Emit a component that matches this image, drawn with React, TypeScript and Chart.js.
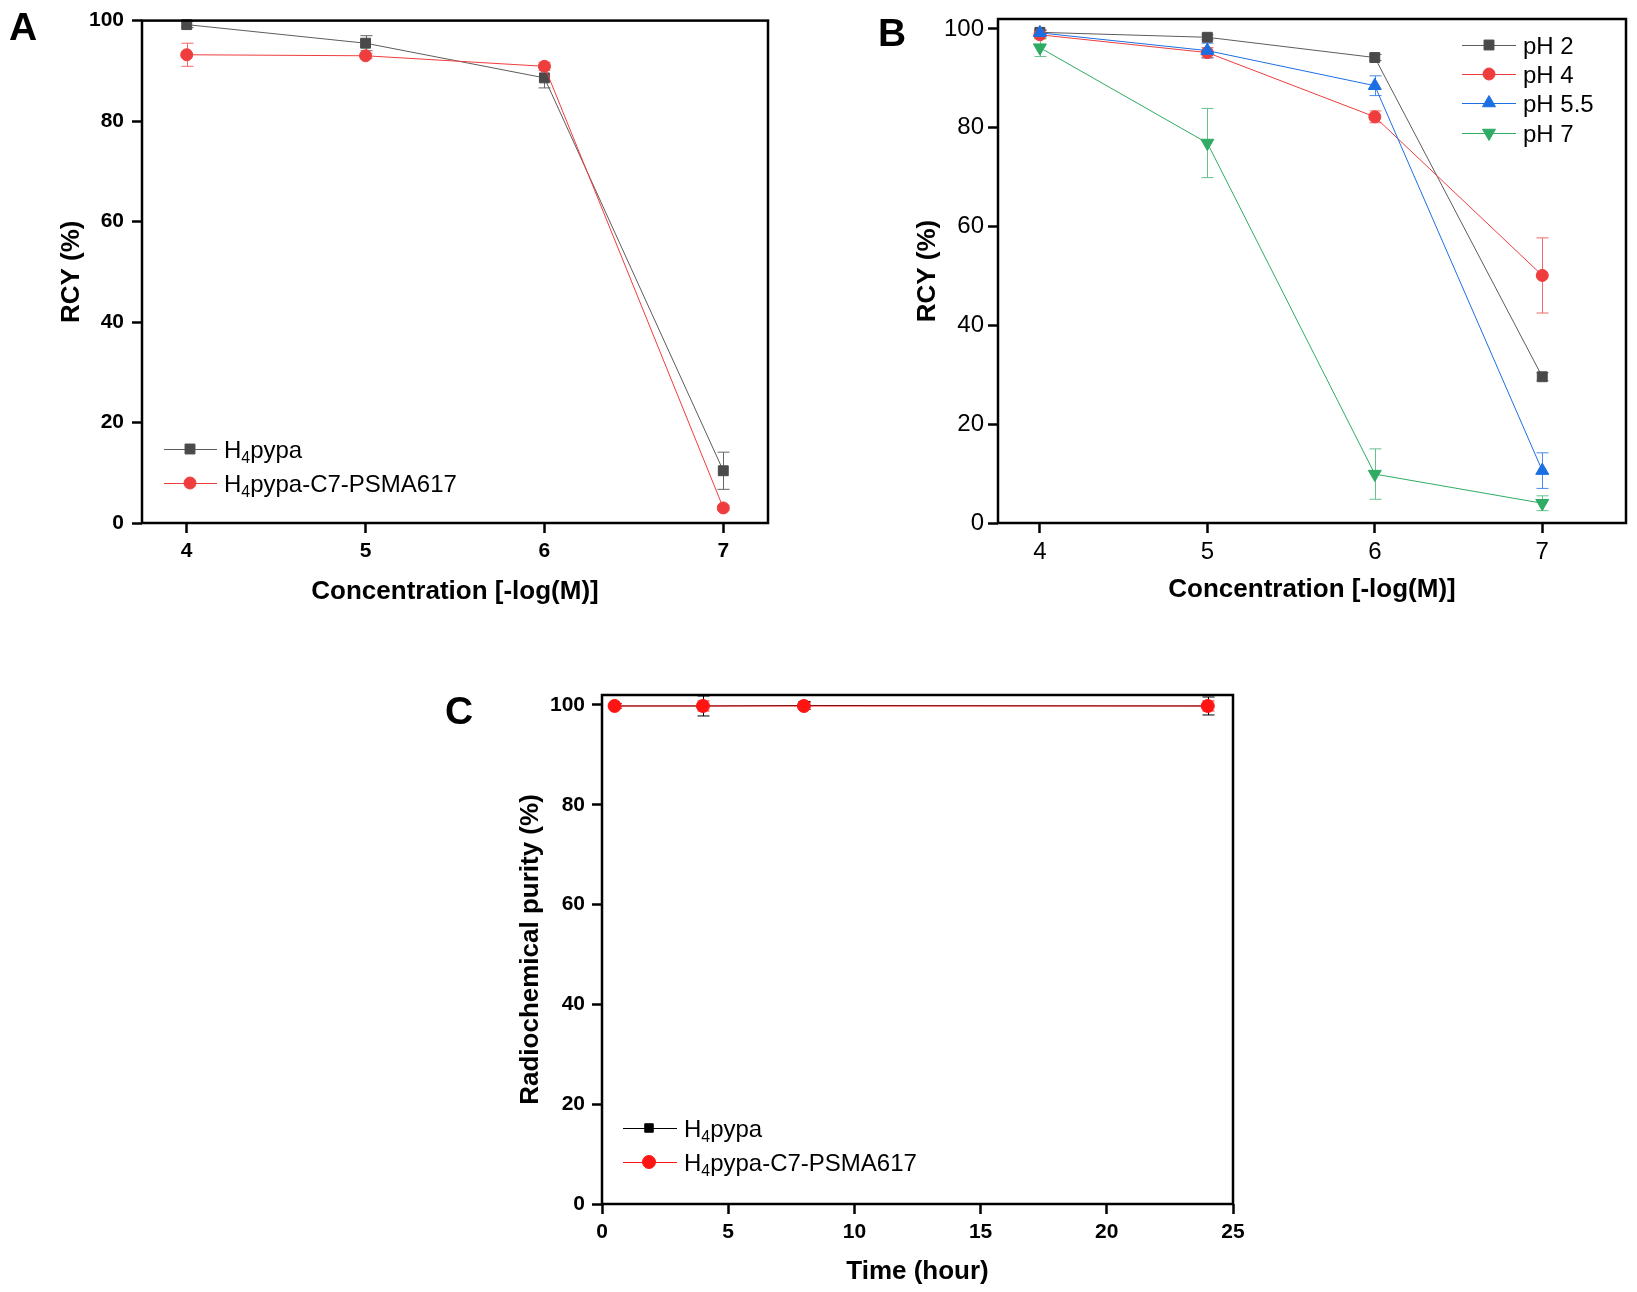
import React, { useEffect, useRef } from 'react';
import { Chart, registerables } from 'chart.js';

Chart.register(...registerables);

const FONT = "'Liberation Sans', Arial, Helvetica, sans-serif";
const NARROW = "'Liberation Sans Narrow', 'Arial Narrow', 'Liberation Sans', Arial, sans-serif";

// ---------- Panel A data ----------
const concX = [4, 5, 6, 7];
const concTicks = [4, 5, 6, 7];
const rcyTicks = [0, 20, 40, 60, 80, 100];
const aPypa = [99.2, 95.5, 88.6, 10.4];
const aPypaErr = [0.6, 1.5, 2.0, 3.7];
const aPsma = [93.2, 93.0, 90.9, 3.0];
const aPsmaErr = [2.3, 0.5, 0.8, 0.5];

// ---------- Panel B data ----------
const bPH2 = [99.3, 98.3, 94.2, 29.6];
const bPH2Err = [0.5, 0.5, 0.6, 0.8];
const bPH4 = [98.8, 95.2, 82.2, 50.1];
const bPH4Err = [0.8, 1.0, 1.2, 7.6];
const bPH55 = [99.2, 95.6, 88.5, 10.6];
const bPH55Err = [0.5, 1.5, 2.0, 3.6];
const bPH7 = [96.2, 76.9, 9.9, 4.0];
const bPH7Err = [1.8, 7.0, 5.1, 1.5];

// ---------- Panel C data ----------
const timeX = [0.5, 4, 8, 24];
const timeTicks = [0, 5, 10, 15, 20, 25];
const purityTicks = [0, 20, 40, 60, 80, 100];
const cPypa = [99.8, 99.8, 99.9, 99.8];
const cPypaErr = [0.5, 2.0, 0.8, 1.8];
const cPsma = [99.8, 99.8, 99.8, 99.8];
const cPsmaErr = [0.5, 1.0, 0.7, 1.0];

type Part = { t: string; sub?: boolean };
const lblPypa: Part[] = [{ t: 'H' }, { t: '4', sub: true }, { t: 'pypa' }];
const lblPsma: Part[] = [{ t: 'H' }, { t: '4', sub: true }, { t: 'pypa-C7-PSMA617' }];

type Series = {
  label: Part[];
  data: number[];
  err: number[];
  color: string;
  line: string;
  errColor: string;
  style: string;
  radius: number;
  rotation?: number;
};

type Panel = {
  canvas: { x: number; y: number; w: number; h: number };
  area: { L: number; T: number; R: number; B: number };
  yTitleCX: number;
  xTitleCY: number;
  xs: number[];
  xMin: number;
  xMax: number;
  xTicks: number[];
  yMin: number;
  yMax: number;
  yTicks: number[];
  xTitle: string;
  yTitle: string;
  tickFont: { family: string; size: number; weight: string };
  yTickPad: number;
  xTickPad: number;
  series: Series[];
  legend: { x1: number; x2: number; mx: number; tx: number; ys: number[]; size: number };
  letter: { t: string; x: number; y: number };
};

const GRAY = '#4a4a4a';
const GRAYLINE = '#5c5c5c';
const RED = '#ef3d3d';
const BLUE = '#1b6fe2';
const GREEN = '#2fab63';

const panels: Panel[] = [
  {
    canvas: { x: 0, y: 0, w: 810, h: 630 },
    area: { L: 142, T: 20, R: 768, B: 523 },
    yTitleCX: 72,
    xTitleCY: 592,
    xs: concX,
    xMin: 3.75,
    xMax: 7.25,
    xTicks: concTicks,
    yMin: 0,
    yMax: 100,
    yTicks: rcyTicks,
    xTitle: 'Concentration [-log(M)]',
    yTitle: 'RCY (%)',
    tickFont: { family: FONT, size: 21, weight: 'bold' },
    yTickPad: 8,
    xTickPad: 6,
    series: [
      { label: lblPypa, data: aPypa, err: aPypaErr, color: GRAY, line: GRAYLINE, errColor: '#666666', style: 'rect', radius: 7 },
      { label: lblPsma, data: aPsma, err: aPsmaErr, color: RED, line: RED, errColor: '#f06a6a', style: 'circle', radius: 6 },
    ],
    legend: { x1: 164, x2: 217, mx: 190, tx: 224, ys: [449, 483], size: 24 },
    letter: { t: 'A', x: 9, y: 40 },
  },
  {
    canvas: { x: 818, y: 0, w: 819, h: 630 },
    area: { L: 998, T: 19, R: 1626, B: 523 },
    yTitleCX: 928,
    xTitleCY: 590,
    xs: concX,
    xMin: 3.75,
    xMax: 7.5,
    xTicks: concTicks,
    yMin: 0,
    yMax: 102,
    yTicks: rcyTicks,
    xTitle: 'Concentration [-log(M)]',
    yTitle: 'RCY (%)',
    tickFont: { family: NARROW, size: 24, weight: 'normal' },
    yTickPad: 4,
    xTickPad: 5,
    series: [
      { label: [{ t: 'pH 2' }], data: bPH2, err: bPH2Err, color: GRAY, line: GRAYLINE, errColor: '#666666', style: 'rect', radius: 7 },
      { label: [{ t: 'pH 4' }], data: bPH4, err: bPH4Err, color: RED, line: RED, errColor: '#f06a6a', style: 'circle', radius: 6 },
      { label: [{ t: 'pH 5.5' }], data: bPH55, err: bPH55Err, color: BLUE, line: BLUE, errColor: '#4a8ae8', style: 'triangle', radius: 7.5 },
      { label: [{ t: 'pH 7' }], data: bPH7, err: bPH7Err, color: GREEN, line: GREEN, errColor: '#66c18c', style: 'triangle', radius: 7.5, rotation: 180 },
    ],
    legend: { x1: 1462, x2: 1516, mx: 1489, tx: 1523, ys: [45, 74, 103, 133], size: 24 },
    letter: { t: 'B', x: 878, y: 46 },
  },
  {
    canvas: { x: 420, y: 650, w: 850, h: 642 },
    area: { L: 602, T: 695, R: 1233, B: 1204 },
    yTitleCX: 531,
    xTitleCY: 1272,
    xs: timeX,
    xMin: 0,
    xMax: 25,
    xTicks: timeTicks,
    yMin: 0,
    yMax: 102,
    yTicks: purityTicks,
    xTitle: 'Time (hour)',
    yTitle: 'Radiochemical purity (%)',
    tickFont: { family: FONT, size: 21, weight: 'bold' },
    yTickPad: 7,
    xTickPad: 6,
    series: [
      { label: lblPypa, data: cPypa, err: cPypaErr, color: '#000000', line: '#000000', errColor: '#000000', style: 'rect', radius: 6 },
      { label: lblPsma, data: cPsma, err: cPsmaErr, color: '#ff1414', line: '#ff1414', errColor: '#ff1414', style: 'circle', radius: 6.5 },
    ],
    legend: { x1: 623, x2: 677, mx: 649, tx: 684, ys: [1128, 1162], size: 24 },
    letter: { t: 'C', x: 445, y: 724 },
  },
];

function drawMarker(ctx: CanvasRenderingContext2D, style: string, x: number, y: number, r: number, color: string, rotation = 0) {
  ctx.save();
  ctx.fillStyle = color;
  ctx.strokeStyle = color;
  ctx.lineWidth = 1;
  ctx.beginPath();
  if (style === 'rect') {
    const s = r * Math.SQRT1_2;
    ctx.rect(x - s, y - s, 2 * s, 2 * s);
  } else if (style === 'circle') {
    ctx.arc(x, y, r, 0, Math.PI * 2);
  } else {
    let rad = (rotation * Math.PI) / 180;
    ctx.moveTo(x + Math.sin(rad) * r, y - Math.cos(rad) * r);
    rad += (2 * Math.PI) / 3;
    ctx.lineTo(x + Math.sin(rad) * r, y - Math.cos(rad) * r);
    rad += (2 * Math.PI) / 3;
    ctx.lineTo(x + Math.sin(rad) * r, y - Math.cos(rad) * r);
  }
  ctx.closePath();
  ctx.fill();
  ctx.stroke();
  ctx.restore();
}

function drawRich(ctx: CanvasRenderingContext2D, parts: Part[], x: number, cy: number, size: number) {
  ctx.save();
  ctx.fillStyle = '#000';
  ctx.textBaseline = 'alphabetic';
  ctx.textAlign = 'left';
  const base = cy + size * 0.36;
  let cx = x;
  for (const p of parts) {
    if (p.sub) {
      const s = size * 0.66;
      ctx.font = `normal ${s}px ${FONT}`;
      ctx.fillText(p.t, cx, base + size * 0.22);
      cx += ctx.measureText(p.t).width;
    } else {
      ctx.font = `normal ${size}px ${FONT}`;
      ctx.fillText(p.t, cx, base);
      cx += ctx.measureText(p.t).width;
    }
  }
  ctx.restore();
}

function buildChart(canvas: HTMLCanvasElement, p: Panel) {
  const titleSize = 26;
  const lh = titleSize * 1.2;
  const ox = p.canvas.x;
  const oy = p.canvas.y;
  const padLeft = p.yTitleCX - lh / 2 - ox;
  const yWidth = p.area.L - (p.yTitleCX - lh / 2);
  const padTop = p.area.T - oy;
  const padRight = ox + p.canvas.w - p.area.R;
  const xHeight = p.xTitleCY + lh / 2 - p.area.B;
  const padBottom = oy + p.canvas.h - (p.xTitleCY + lh / 2);

  const n = p.series.length;
  const datasets = p.series.map((s, i) => ({
    label: s.label.map((q) => q.t).join(''),
    data: p.xs.map((x, j) => ({ x, y: s.data[j] })),
    borderColor: s.line,
    backgroundColor: s.color,
    borderWidth: 1,
    tension: 0,
    pointStyle: s.style,
    pointRadius: s.radius,
    pointRotation: s.rotation || 0,
    pointBackgroundColor: s.color,
    pointBorderColor: s.color,
    pointBorderWidth: 1,
    clip: false as any,
    order: n - i,
  }));

  const errPlugin = {
    id: 'errbars',
    beforeDatasetsDraw(chart: any) {
      const ctx: CanvasRenderingContext2D = chart.ctx;
      const xs = chart.scales.x;
      const ys = chart.scales.y;
      p.series.forEach((s) => {
        ctx.save();
        ctx.strokeStyle = s.errColor;
        ctx.lineWidth = 1;
        s.data.forEach((v, i) => {
          const e = s.err[i];
          if (!e) return;
          const px = Math.round(xs.getPixelForValue(p.xs[i])) + 0.5;
          const top = ys.getPixelForValue(v + e);
          const bot = ys.getPixelForValue(v - e);
          ctx.beginPath();
          ctx.moveTo(px, top);
          ctx.lineTo(px, bot);
          ctx.moveTo(px - 6, top);
          ctx.lineTo(px + 6, top);
          ctx.moveTo(px - 6, bot);
          ctx.lineTo(px + 6, bot);
          ctx.stroke();
        });
        ctx.restore();
      });
    },
  };

  const decoPlugin = {
    id: 'deco',
    afterDraw(chart: any) {
      const ctx: CanvasRenderingContext2D = chart.ctx;
      const a = chart.chartArea;
      ctx.save();
      ctx.strokeStyle = '#000';
      ctx.lineWidth = 2.5;
      ctx.strokeRect(a.left, a.top, a.right - a.left, a.bottom - a.top);
      ctx.restore();
      // legend
      const lg = p.legend;
      p.series.forEach((s, i) => {
        const y = lg.ys[i] - oy;
        ctx.save();
        ctx.strokeStyle = s.line;
        ctx.lineWidth = 1;
        ctx.beginPath();
        ctx.moveTo(lg.x1 - ox, y + 0.5);
        ctx.lineTo(lg.x2 - ox, y + 0.5);
        ctx.stroke();
        ctx.restore();
        drawMarker(ctx, s.style, lg.mx - ox, y, s.radius, s.color, s.rotation || 0);
        drawRich(ctx, s.label, lg.tx - ox, y, lg.size);
      });
      // panel letter
      ctx.save();
      ctx.fillStyle = '#000';
      ctx.font = `bold 39px ${FONT}`;
      ctx.textBaseline = 'alphabetic';
      ctx.textAlign = 'left';
      ctx.fillText(p.letter.t, p.letter.x - ox, p.letter.y - oy);
      ctx.restore();
    },
  };

  const gridOpts = {
    display: true,
    drawOnChartArea: false,
    drawTicks: true,
    tickLength: 10,
    tickWidth: 2.5,
    tickColor: '#000',
  };
  const titleFont = { family: FONT, size: titleSize, weight: 'bold' as const, lineHeight: 1.2 };

  return new Chart(canvas, {
    type: 'line',
    data: { datasets: datasets as any },
    plugins: [errPlugin, decoPlugin],
    options: {
      animation: false,
      responsive: false,
      devicePixelRatio: 1,
      events: [],
      layout: { padding: { left: padLeft, top: padTop, right: padRight, bottom: padBottom } },
      plugins: { legend: { display: false }, tooltip: { enabled: false } },
      scales: {
        x: {
          type: 'linear',
          min: p.xMin,
          max: p.xMax,
          afterBuildTicks: (s: any) => {
            s.ticks = p.xTicks.map((v) => ({ value: v }));
          },
          afterFit: (s: any) => {
            s.height = xHeight;
          },
          ticks: {
            autoSkip: false,
            maxRotation: 0,
            color: '#000',
            padding: p.xTickPad,
            font: p.tickFont as any,
            callback: (v: any) => String(v),
          },
          grid: gridOpts,
          border: { display: false },
          title: { display: true, text: p.xTitle, color: '#000', font: titleFont, padding: 0 },
        },
        y: {
          type: 'linear',
          min: p.yMin,
          max: p.yMax,
          afterBuildTicks: (s: any) => {
            s.ticks = p.yTicks.map((v) => ({ value: v }));
          },
          afterFit: (s: any) => {
            s.width = yWidth;
          },
          ticks: {
            autoSkip: false,
            color: '#000',
            padding: p.yTickPad,
            font: p.tickFont as any,
            callback: (v: any) => String(v),
          },
          grid: gridOpts,
          border: { display: false },
          title: { display: true, text: p.yTitle, color: '#000', font: titleFont, padding: 0 },
        },
      },
    },
  } as any);
}

export default function App() {
  const r0 = useRef<HTMLCanvasElement>(null);
  const r1 = useRef<HTMLCanvasElement>(null);
  const r2 = useRef<HTMLCanvasElement>(null);
  const refs = [r0, r1, r2];

  useEffect(() => {
    const charts = refs.map((r, i) => buildChart(r.current as HTMLCanvasElement, panels[i]));
    return () => {
      charts.forEach((c) => c.destroy());
    };
  }, []);

  return (
    <div style={{ position: 'absolute', left: 0, top: 0, width: 1637, height: 1292, background: '#fff', overflow: 'hidden' }}>
      {panels.map((p, i) => (
        <canvas
          key={i}
          ref={refs[i]}
          width={p.canvas.w}
          height={p.canvas.h}
          style={{ position: 'absolute', left: p.canvas.x, top: p.canvas.y, width: p.canvas.w, height: p.canvas.h }}
        />
      ))}
    </div>
  );
}
